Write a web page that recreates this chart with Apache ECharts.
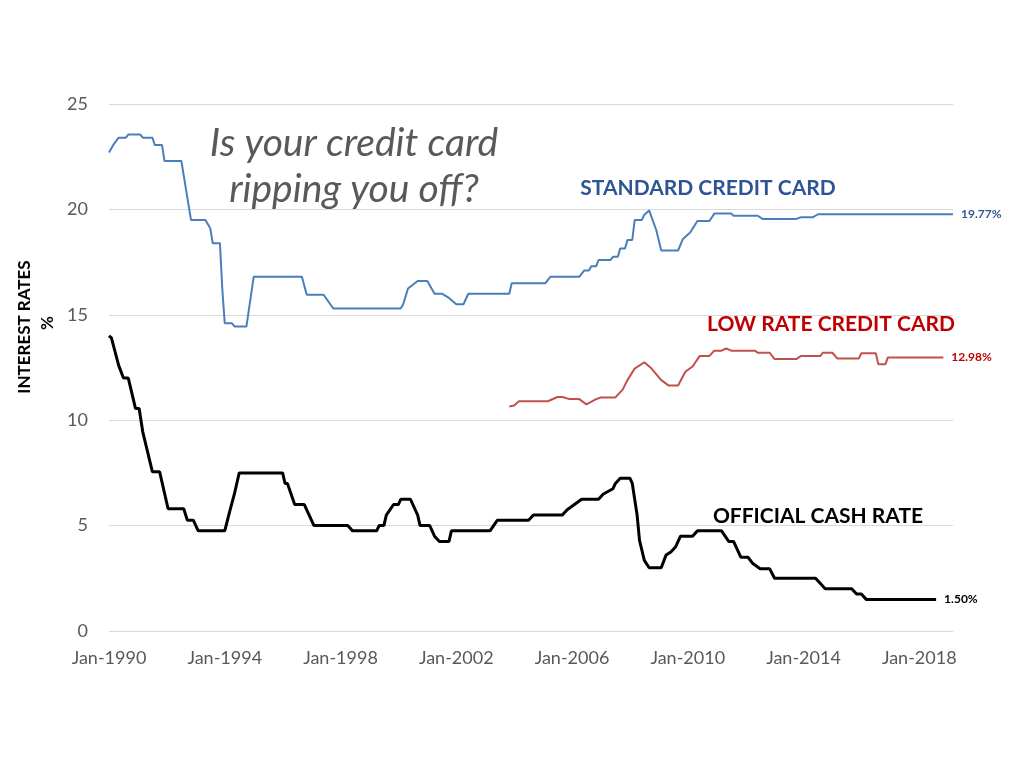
<!DOCTYPE html>
<html>
<head>
<meta charset="utf-8">
<title>Interest rates</title>
<script src="https://cdn.jsdelivr.net/npm/echarts@6/dist/echarts.min.js"></script>
<style>
    html, body { margin: 0; padding: 0; background: #ffffff; }
    #chart_rates { width: 1024px; height: 768px; }
</style>
</head>
<body>
<div id="chart_rates"></div>
<script>
// x values are months since Jan-1990
var startYear = 1990;
var xMax = 350;
var labelStep = 48;

var standardCard = [
    [0, 22.7], [2, 23.1], [4, 23.4], [7, 23.4], [8, 23.55], [13, 23.55], [14, 23.4], [18, 23.4],
    [19, 23.05], [22, 23.05], [23, 22.3], [30, 22.3], [32, 20.9], [34, 19.5], [40, 19.5], [42, 19.1],
    [43, 18.4], [46, 18.4], [47, 16.2], [48, 14.6], [51, 14.6], [52, 14.45], [57, 14.45], [60, 16.8],
    [80, 16.8], [82, 15.95], [89, 15.95], [93, 15.3], [121, 15.3], [122, 15.5], [124, 16.25], [128, 16.6],
    [132, 16.6], [135, 16.0], [138, 16.0], [141, 15.8], [144, 15.5], [147, 15.5], [149, 16.0], [166, 16.0],
    [167, 16.5], [181, 16.5], [183, 16.8], [195, 16.8], [197, 17.1], [199, 17.1], [200, 17.3], [202, 17.3],
    [203, 17.6], [208, 17.6], [209, 17.75], [211, 17.75], [212, 18.15], [214, 18.15], [215, 18.55], [217, 18.55],
    [218, 19.5], [221, 19.5], [222, 19.75], [224, 19.95], [227, 19.0], [229, 18.05], [236, 18.05], [238, 18.6],
    [241, 18.9], [244, 19.45], [249, 19.45], [251, 19.8], [258, 19.8], [259, 19.7], [269, 19.7], [271, 19.55],
    [285, 19.55], [287, 19.63], [292, 19.63], [294, 19.77], [350, 19.77]
];

var lowRateCard = [
    [166, 10.65], [168, 10.7], [170, 10.9], [182, 10.9], [186, 11.1], [188, 11.1], [191, 11.0], [195, 11.0],
    [198, 10.75], [202, 11.0], [204, 11.08], [210, 11.08], [213, 11.45], [215, 11.9], [218, 12.45], [222, 12.75],
    [225, 12.45], [229, 11.9], [232, 11.65], [236, 11.65], [239, 12.3], [242, 12.55], [245, 13.05], [249, 13.05],
    [251, 13.3], [254, 13.3], [256, 13.4], [258, 13.3], [268, 13.3], [269, 13.2], [274, 13.2], [276, 12.9],
    [285, 12.9], [287, 13.05], [295, 13.05], [296, 13.2], [300, 13.2], [302, 12.93], [311, 12.93], [312, 13.18],
    [318, 13.18], [319, 12.66], [322, 12.66], [323, 12.98], [346, 12.98]
];

var cashRate = [
    [0, 14.0], [1, 13.9], [4, 12.6], [6, 12.0], [8, 12.0], [11, 10.55], [12.5, 10.55], [14, 9.45],
    [18, 7.55], [21, 7.55], [24.5, 5.8], [31, 5.8], [32.5, 5.25], [35, 5.25], [37, 4.75], [48, 4.75],
    [50, 5.65], [52, 6.5], [54, 7.5], [72, 7.5], [73, 7.0], [74, 7.0],
    [77, 6.0], [81, 6.0], [83, 5.5], [85, 5.0], [99, 5.0], [101, 4.75], [111, 4.75],
    [112, 5.0], [114, 5.0], [115, 5.5], [118, 6.0], [120, 6.0], [121, 6.25], [125, 6.25], [128, 5.5],
    [129, 5.0], [133, 5.0], [135, 4.5], [137, 4.25], [141, 4.25], [142, 4.75], [158, 4.75], [161, 5.25],
    [174, 5.25], [176, 5.5], [188, 5.5], [190, 5.75], [193, 6.0], [196, 6.25], [203, 6.25], [205, 6.5],
    [209, 6.75], [210, 7.0], [212, 7.25], [216, 7.25], [217, 7.0], [219, 5.5], [220, 4.3], [222, 3.35],
    [224, 3.0], [229, 3.0], [231, 3.6], [233, 3.75], [235, 4.0], [237, 4.5], [242, 4.5], [244, 4.75],
    [254, 4.75], [257, 4.25], [259, 4.25], [262, 3.5], [265, 3.5], [267, 3.2], [270, 2.95], [274, 2.95],
    [276, 2.5], [293, 2.5], [295, 2.25], [297, 2.0], [308, 2.0], [310, 1.75], [312, 1.75], [314, 1.5],
    [343, 1.5]
];

var endLabels = ['19.77%', '12.98%', '1.50%'];

var chart_rates = echarts.init(document.getElementById('chart_rates'));

function monthLabel(v) {
    if (v % labelStep !== 0) { return ''; }
    return 'Jan-' + (startYear + v / 12);
}

function lineSeries(name, data, color, width, endText, endColor) {
    return {
        name: name,
        type: 'line',
        data: data,
        symbol: 'none',
        smooth: false,
        lineStyle: { color: color, width: width },
        endLabel: {
            show: true,
            formatter: endText,
            color: endColor,
            fontFamily: 'Lato',
            fontWeight: 'bold',
            fontSize: 12,
            distance: 8
        },
        animation: false
    };
}

var option = {
    backgroundColor: '#ffffff',
    animation: false,
    grid: {
        left: 109,
        right: 71,
        top: 104,
        bottom: 137
    },
    xAxis: {
        type: 'value',
        min: 0,
        max: xMax,
        interval: labelStep,
        axisLine: { show: false },
        axisTick: { show: false },
        splitLine: { show: false },
        axisLabel: {
            formatter: monthLabel,
            color: '#595959',
            fontFamily: 'Lato',
            fontSize: 18,
            margin: 18,
            showMaxLabel: false
        }
    },
    yAxis: {
        type: 'value',
        min: 0,
        max: 25,
        interval: 5,
        axisLine: { show: false },
        axisTick: { show: false },
        splitLine: { lineStyle: { color: '#d9d9d9', width: 1 } },
        axisLabel: {
            color: '#595959',
            fontFamily: 'Lato',
            fontSize: 18,
            margin: 21
        }
    },
    graphic: [
        {
            type: 'text', x: 25, y: 327, rotation: Math.PI / 2,
            style: { text: 'INTEREST RATES', fill: '#000000', font: 'bold 17px Lato', textAlign: 'center', textVerticalAlign: 'middle' }
        },
        {
            type: 'text', x: 48, y: 323, rotation: Math.PI / 2,
            style: { text: '%', fill: '#000000', font: 'bold 17px Lato', textAlign: 'center', textVerticalAlign: 'middle' }
        },
        {
            type: 'text', x: 354, y: 143,
            style: { text: 'Is your credit card', fill: '#595959', font: 'italic 39px Lato', textAlign: 'center', textVerticalAlign: 'middle' }
        },
        {
            type: 'text', x: 354, y: 189,
            style: { text: 'ripping you off?', fill: '#595959', font: 'italic 39px Lato', textAlign: 'center', textVerticalAlign: 'middle' }
        },
        {
            type: 'text', x: 708, y: 188,
            style: { text: 'STANDARD CREDIT CARD', fill: '#2f5496', font: 'bold 21px Lato', textAlign: 'center', textVerticalAlign: 'middle' }
        },
        {
            type: 'text', x: 831, y: 324,
            style: { text: 'LOW RATE CREDIT CARD', fill: '#c00000', font: 'bold 21px Lato', textAlign: 'center', textVerticalAlign: 'middle' }
        },
        {
            type: 'text', x: 818, y: 516,
            style: { text: 'OFFICIAL CASH RATE', fill: '#000000', font: 'bold 21px Lato', textAlign: 'center', textVerticalAlign: 'middle' }
        }
    ],
    series: [
        lineSeries('Standard credit card', standardCard, '#4a7ebb', 2, endLabels[0], '#2f5496'),
        lineSeries('Low rate credit card', lowRateCard, '#c0504d', 2, endLabels[1], '#c00000'),
        lineSeries('Official cash rate', cashRate, '#000000', 3, endLabels[2], '#000000')
    ]
};

chart_rates.setOption(option);
</script>
</body>
</html>
